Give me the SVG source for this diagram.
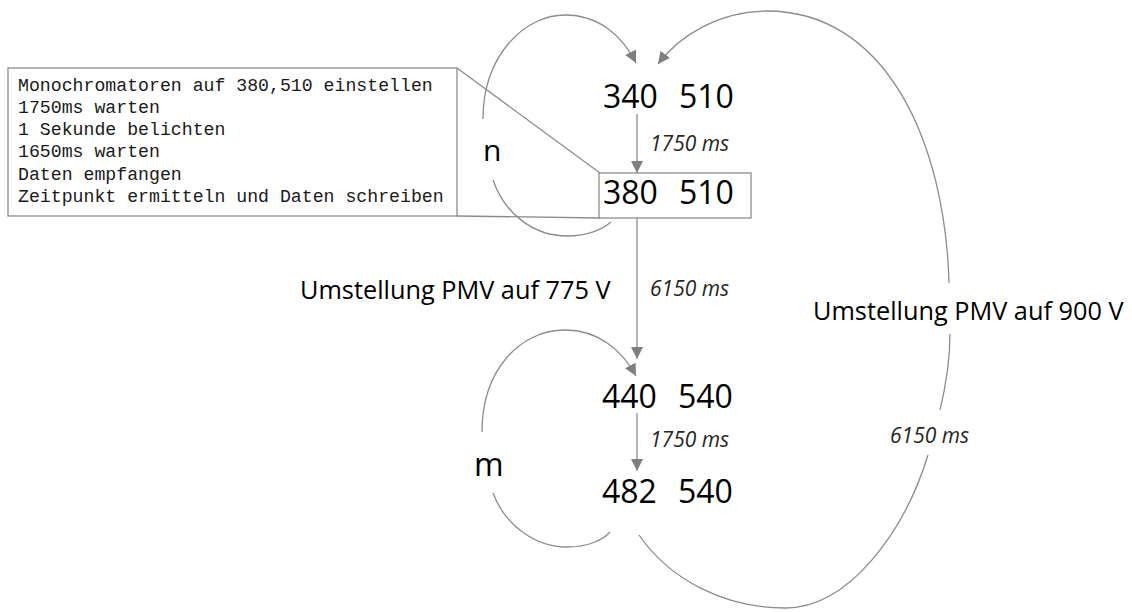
<svg xmlns="http://www.w3.org/2000/svg" width="1132" height="612" viewBox="0 0 1132 612">
<style>
.num{font-family:"Open Sans","Noto Sans",sans-serif;font-size:32px;fill:#000}
.lbl{font-family:"Open Sans","Noto Sans",sans-serif;font-size:25.3px;fill:#000}
.ms{font-family:"Open Sans","Noto Sans",sans-serif;font-size:21px;font-style:italic;fill:#262626}
.mono{font-family:"Liberation Mono","Courier New",monospace;font-size:18.2px;fill:#1a1a1a}
.con{fill:none;stroke:#8c8c8c;stroke-width:1.3}
.arr{marker-end:url(#ah)}
.box{fill:#fff;stroke:#8c8c8c;stroke-width:1.3}
</style>
<defs>
<marker id="ah" viewBox="0 0 10 10" refX="10" refY="5" markerUnits="userSpaceOnUse" markerWidth="12" markerHeight="13" orient="auto">
<path d="M0,0 L10,5 L0,10 z" fill="#7f7f7f"/>
</marker>
</defs>
<rect width="1132" height="612" fill="#fff"/>
<g id="connectors">
<line class="con arr" x1="637" y1="114" x2="637" y2="173"/>
<line class="con arr" x1="637" y1="218" x2="637" y2="359"/>
<line class="con arr" x1="637" y1="413" x2="637" y2="471"/>
<path class="con arr" d="M483 119 C483 55 525 15 565 15 C598 15 622 35 636 63"/>
<path class="con" d="M493 180 C505 215 535 236 567 236 C588 236 603 229 611 222"/>
<path class="con arr" d="M482 432 C482 370 520 330 565 330 C598 330 622 350 636 376"/>
<path class="con" d="M493 493 C505 525 535 547 567 547 C588 547 603 540 610 532"/>
<path class="con" d="M639 535 C670 580 725 608 785 608 C850 608 905 530 928 455"/>
<path class="con" d="M940 410 C946 385 950 360 950 334"/>
<path class="con arr" d="M949 283 C945 140 885 11 767 11 C720 11 680 35 658 64"/>
<line class="con" x1="457" y1="68" x2="600" y2="173"/>
<line class="con" x1="457" y1="216" x2="600" y2="218"/>
</g>
<g id="callout">
<rect class="box" x="8" y="68" width="449" height="148"/>
<text class="mono" x="18" y="91">Monochromatoren auf 380,510 einstellen</text>
<text class="mono" x="18" y="113">1750ms warten</text>
<text class="mono" x="18" y="135">1 Sekunde belichten</text>
<text class="mono" x="18" y="157">1650ms warten</text>
<text class="mono" x="18" y="180">Daten empfangen</text>
<text class="mono" x="18" y="202">Zeitpunkt ermitteln und Daten schreiben</text>
</g>
<g id="node-340-510">
<text class="num" x="603" y="108">340</text><text class="num" x="679" y="108">510</text>
</g>
<g id="node-380-510">
<rect class="box" x="599" y="173" width="152" height="45"/>
<text class="num" x="603" y="204">380</text><text class="num" x="679" y="204">510</text>
</g>
<g id="node-440-540">
<text class="num" x="602" y="408">440</text><text class="num" x="678" y="408">540</text>
</g>
<g id="node-482-540">
<text class="num" x="602" y="503">482</text><text class="num" x="678" y="503">540</text>
</g>
<g id="labels">
<text class="ms" x="650" y="151">1750 ms</text>
<text class="ms" x="650" y="296">6150 ms</text>
<text class="ms" x="650" y="447">1750 ms</text>
<text class="ms" x="890" y="443">6150 ms</text>
<text class="lbl" x="300" y="299">Umstellung PMV auf 775 V</text>
<text class="lbl" x="813" y="320">Umstellung PMV auf 900 V</text>
<text class="num" x="483" y="161" style="font-size:30px">n</text>
<text class="num" x="474" y="476">m</text>
</g>
</svg>
